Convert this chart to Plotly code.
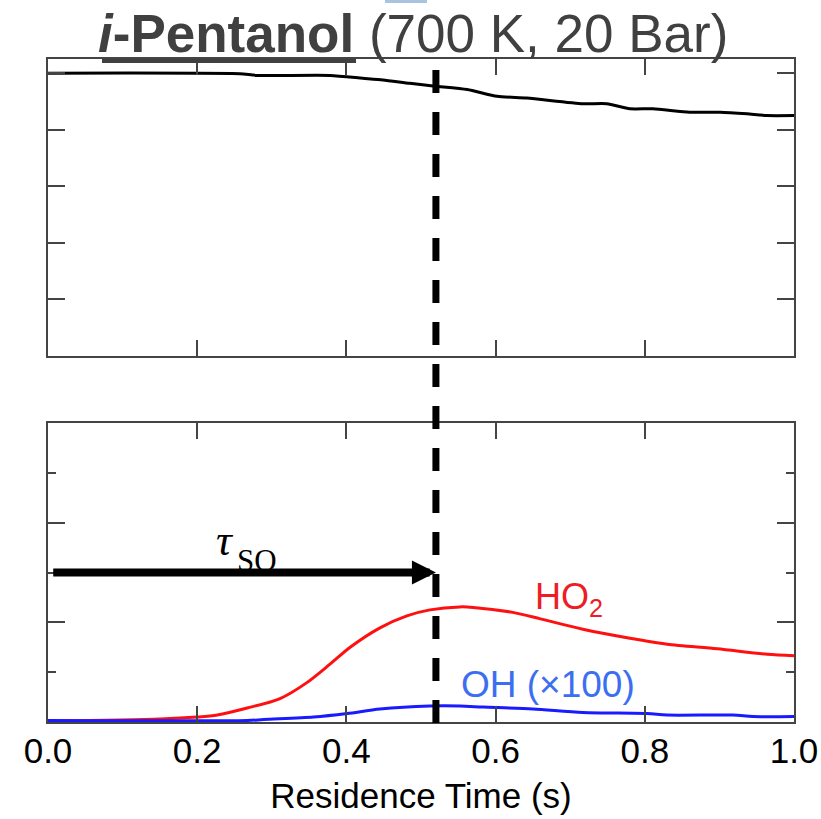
import plotly.graph_objects as go

# ---- data ----
t_fuel = [0.0, 0.257, 0.28, 0.378, 0.422, 0.449, 0.485, 0.519, 0.562, 0.602, 0.642,
          0.717, 0.749, 0.780, 0.811, 0.860, 0.901, 0.937, 0.964, 1.0]
v_fuel = [5.0, 4.99, 4.96, 4.96, 4.91, 4.88, 4.82, 4.77, 4.71, 4.59, 4.56,
          4.46, 4.46, 4.37, 4.37, 4.31, 4.31, 4.28, 4.25, 4.25]

t_ho2 = [0.0, 0.15, 0.20, 0.227, 0.267, 0.311, 0.347, 0.378, 0.405, 0.445, 0.481,
         0.512, 0.552, 0.570, 0.623, 0.660, 0.717, 0.780, 0.830, 0.897, 0.964, 1.0]
v_ho2 = [0.02, 0.06, 0.10, 0.14, 0.28, 0.47, 0.79, 1.16, 1.50, 1.89, 2.13,
         2.25, 2.31, 2.30, 2.20, 2.07, 1.86, 1.68, 1.56, 1.47, 1.36, 1.33]

t_oh = [0.0, 0.267, 0.289, 0.356, 0.401, 0.445, 0.512, 0.552, 0.583, 0.650,
        0.717, 0.803, 0.830, 0.918, 0.945, 1.0]
v_oh = [0.03, 0.03, 0.05, 0.10, 0.17, 0.26, 0.32, 0.32, 0.30, 0.26,
        0.19, 0.17, 0.14, 0.14, 0.11, 0.11]

tau_so = 0.52
arrow_y = 3.0
x_ticks = [0.0, 0.2, 0.4, 0.6, 0.8, 1.0]
x_ticktext = ["0.0", "0.2", "0.4", "0.6", "0.8", "1.0"]
top_yticks = [1, 2, 3, 4, 5]

FONT = "Liberation Sans, Arial, sans-serif"
SERIF = "Liberation Serif, DejaVu Serif, serif"
AX = "#444444"

fig = go.Figure()
fig.add_trace(go.Scatter(x=t_fuel, y=v_fuel, mode="lines", xaxis="x", yaxis="y",
                         line=dict(color="black", width=3, shape="spline", smoothing=0.6),
                         showlegend=False))
fig.add_trace(go.Scatter(x=t_ho2, y=v_ho2, mode="lines", xaxis="x2", yaxis="y2",
                         line=dict(color="#ff1010", width=3, shape="spline", smoothing=0.8),
                         showlegend=False))
fig.add_trace(go.Scatter(x=t_oh, y=v_oh, mode="lines", xaxis="x2", yaxis="y2",
                         line=dict(color="#1a1aff", width=3, shape="spline", smoothing=0.8),
                         showlegend=False))

common_x = dict(range=[0, 1], tickvals=x_ticks, ticks="inside", ticklen=16, tickwidth=2,
                tickcolor=AX, showline=True, linecolor=AX, linewidth=2, mirror="ticks",
                showgrid=False, zeroline=False, automargin=False)
common_y = dict(ticks="inside", ticklen=17, tickwidth=2, tickcolor=AX, showline=True,
                linecolor=AX, linewidth=2, mirror="ticks", showgrid=False, zeroline=False,
                showticklabels=False, automargin=False)

H = 819
mt, mb = 59, 97
ph = H - mt - mb
def py(px):
    return (H - mb - px) / ph
def pxx(px):
    return (px - 48) / 746

fig.update_layout(
    width=821, height=H,
    margin=dict(l=48, r=27, t=mt, b=mb),
    paper_bgcolor="white", plot_bgcolor="white",
    xaxis=dict(anchor="y", domain=[0, 1], showticklabels=False, **common_x),
    yaxis=dict(anchor="x", domain=[py(356), 1], range=[0, 5.25], tickvals=top_yticks, **common_y),
    xaxis2=dict(anchor="y2", domain=[0, 1], showticklabels=True, ticktext=x_ticktext,
                tickfont=dict(family=FONT, size=35, color="black"),
                ticklabelstandoff=-3,
                title=dict(text="Residence Time (s)", font=dict(family=FONT, size=35, color="black"),
                           standoff=14),
                **common_x),
    yaxis2=dict(anchor="x2", domain=[0, py(423)], range=[0, 6], dtick=2,
                minor=dict(dtick=1, ticklen=8, tickwidth=2, tickcolor=AX, ticks="inside"),
                **common_y),
)

# title
fig.add_annotation(xref="paper", yref="paper", x=pxx(413), y=py(34),
                   text="<b><i>i</i>-Pentanol</b> (700 K, 20 Bar)", showarrow=False,
                   font=dict(family=FONT, size=53, color="#404040"),
                   xanchor="center", yanchor="middle")
fig.add_shape(type="line", xref="paper", yref="paper",
              x0=pxx(102), x1=pxx(356), y0=py(61), y1=py(61),
              line=dict(color="#404040", width=4), layer="above")
# small artifact bar at top
fig.add_shape(type="rect", xref="paper", yref="paper",
              x0=pxx(385), x1=pxx(427), y0=py(3), y1=py(0),
              line=dict(width=0), fillcolor="#a9c4de", layer="above")

# dashed vertical line at tau_SO
fig.add_shape(type="line", xref="x2", yref="paper", x0=tau_so, x1=tau_so,
              y0=py(70), y1=py(723), line=dict(color="black", width=7, dash="23px,19px"),
              layer="above")

# arrow
fig.add_annotation(xref="x2", yref="y2", axref="x2", ayref="y2", x=tau_so, y=arrow_y,
                   ax=0.005, ay=arrow_y, text="", showarrow=True, arrowhead=2,
                   arrowwidth=8, arrowsize=0.6, arrowcolor="black", standoff=0)
fig.add_annotation(xref="paper", yref="paper", x=pxx(225), y=py(540),
                   text="<i>τ</i>", showarrow=False,
                   font=dict(family=SERIF, size=44, color="black"),
                   xanchor="center", yanchor="middle")
fig.add_annotation(xref="paper", yref="paper", x=pxx(257), y=py(560),
                   text="SO", showarrow=False,
                   font=dict(family=SERIF, size=31, color="black"),
                   xanchor="center", yanchor="middle")

fig.add_annotation(xref="paper", yref="paper", x=pxx(569), y=py(599),
                   text="HO<sub>2</sub>", showarrow=False,
                   font=dict(family=FONT, size=36, color="#ee1c24"),
                   xanchor="center", yanchor="middle")
fig.add_annotation(xref="paper", yref="paper", x=pxx(548), y=py(684),
                   text="OH (×100)", showarrow=False,
                   font=dict(family=FONT, size=37, color="#3b6ef0"),
                   xanchor="center", yanchor="middle")

fig.write_html("out.html")
